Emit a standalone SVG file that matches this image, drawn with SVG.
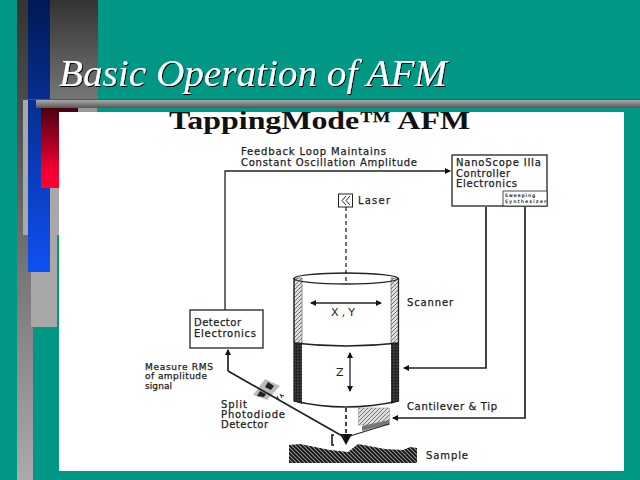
<svg xmlns="http://www.w3.org/2000/svg" width="640" height="480" viewBox="0 0 640 480">
<defs>
<linearGradient id="g1" x1="0" y1="0" x2="0" y2="1"><stop offset="0" stop-color="#333"/><stop offset="1" stop-color="#aaa"/></linearGradient>
<linearGradient id="g2" x1="0" y1="0" x2="0" y2="1"><stop offset="0" stop-color="#333"/><stop offset="1" stop-color="#777"/></linearGradient>
<linearGradient id="g3" x1="0" y1="0" x2="0" y2="1"><stop offset="0" stop-color="#001a55"/><stop offset="1" stop-color="#1050f5"/></linearGradient>
<linearGradient id="g4" x1="0" y1="0" x2="0" y2="1"><stop offset="0" stop-color="#4a0010"/><stop offset="0.75" stop-color="#f00030"/><stop offset="1" stop-color="#ff0033"/></linearGradient>
<linearGradient id="g5" x1="0" y1="0" x2="0" y2="1"><stop offset="0" stop-color="#aaa"/><stop offset="1" stop-color="#555"/></linearGradient>
<pattern id="light" width="4" height="4" patternUnits="userSpaceOnUse"><rect width="4" height="4" fill="#ddd"/><path d="M0 4L4 0" stroke="#777" stroke-width="1"/></pattern>
<pattern id="dark" width="3" height="3" patternUnits="userSpaceOnUse"><rect width="3" height="3" fill="#222"/><circle cx="1" cy="1" r=".6" fill="#999"/></pattern>
<pattern id="sample" width="4" height="4" patternUnits="userSpaceOnUse"><rect width="4" height="4" fill="#999"/><path d="M-1 -1L5 5M3 -1L5 1M-1 3L1 5" stroke="#111" stroke-width="1.8"/></pattern>
<marker id="ah" markerUnits="userSpaceOnUse" markerWidth="7" markerHeight="7" refX="5" refY="3" orient="auto-start-reverse"><path d="M0 0L6 3L0 6Z" fill="#111"/></marker>
<filter id="sh" x="-5%" y="-20%" width="110%" height="140%"><feOffset in="SourceAlpha" dx="1" dy="1" result="o"/><feMerge><feMergeNode in="o"/><feMergeNode in="SourceGraphic"/></feMerge></filter>
</defs>
<style>
.d{font-family:"DejaVu Sans",sans-serif;fill:#222;font-size:10px;stroke:#222;stroke-width:.25}
.s{font-size:9px}
.l{fill:none;stroke:#222;stroke-width:1.3}
.t{stroke-width:1.7}
.b{fill:#fff;stroke:#222;stroke-width:1.3}
</style>
<rect width="640" height="480" fill="#009784"/>
<g id="decor">
<rect x="17" y="0" width="16" height="480" fill="url(#g1)"/>
<rect x="23" y="100" width="36" height="135" fill="#a8a8a8"/>
<rect x="31" y="235" width="26" height="92" fill="#a8a8a8"/>
<rect x="50" y="0" width="48" height="100" fill="url(#g2)"/>
<rect x="28" y="0" width="22" height="272" fill="url(#g3)"/>
<rect x="36" y="100" width="604" height="8" fill="url(#g5)"/>
<rect x="78" y="108" width="19" height="4" fill="#999"/>
<rect x="41" y="108" width="37" height="4" fill="#4a0010"/>
<rect x="41" y="108" width="18" height="80" fill="url(#g4)"/>
<rect x="17" y="99" width="623" height="1" fill="#c02040"/>
</g>
<rect id="panel" x="59" y="112" width="565" height="359" fill="#fff"/>
<text id="title" x="59" y="86" font-family="'Liberation Serif',serif" font-style="italic" font-size="37" fill="#fff" filter="url(#sh)" textLength="388" lengthAdjust="spacingAndGlyphs">Basic Operation of AFM</text>
<text id="heading" x="169" y="129" font-family="'Liberation Serif',serif" font-weight="bold" font-size="26" fill="#111" textLength="301" lengthAdjust="spacingAndGlyphs">TappingMode™ AFM</text>
<g id="laser"><rect x="338.500" y="194" width="14" height="13" fill="#fff" stroke="#222"/><path d="M346 196l-4 4.500 4 4.500M350 196l-4 4.500 4 4.500" fill="none" stroke="#222"/><text class="d" x="358" y="204" textLength="32">Laser</text></g>
<g id="controller"><rect class="b" x="452" y="155" width="95" height="51"/><rect x="503" y="191" width="44" height="15" fill="#fff" stroke="#222" stroke-width=".8"/><text class="d" x="456" y="166" textLength="85">NanoScope IIIa</text><text class="d" x="456" y="177" textLength="54">Controller</text><text class="d" x="456" y="187" textLength="61">Electronics</text><text class="d" style="font-size:4.500px;stroke-width:.2" x="505" y="197" textLength="30">Sweeping</text><text class="d" style="font-size:4.500px;stroke-width:.2" x="505" y="203" textLength="41">Synthesizer</text></g>
<g id="feedback-label"><text class="d" x="241" y="155" textLength="145">Feedback Loop Maintains</text><text class="d" x="241" y="166" textLength="176">Constant Oscillation Amplitude</text></g>
<g id="detector-electronics"><rect class="b" x="190" y="310" width="73" height="38"/><text class="d" x="194" y="326" textLength="47">Detector</text><text class="d" x="194" y="337" textLength="62">Electronics</text></g>
<g id="scanner">
<path d="M294 278H302V343H294ZM391 278H398.500V343H391Z" fill="url(#light)" stroke="#555" stroke-width=".6"/>
<path d="M294 343H302V404L294 401ZM391 343H398.500V401L391 404Z" fill="url(#dark)"/>
<path class="l" d="M294 278V401Q346 413 398.500 401V278"/>
<ellipse class="l" cx="346" cy="278.500" rx="52" ry="5.500"/>
<path class="l" d="M294 343Q346 349 398.500 343"/>
<path class="l" d="M311 303H381" marker-start="url(#ah)" marker-end="url(#ah)"/>
<path class="l" d="M350 353V391" marker-start="url(#ah)" marker-end="url(#ah)"/>
<text class="d" style="stroke-width:0;font-size:11px" x="331" y="316" textLength="24">X,Y</text>
<text class="d" style="stroke-width:0;font-size:11px" x="336" y="376">Z</text>
<text class="d" x="407" y="306" textLength="46">Scanner</text>
</g>
<g id="cantilever"><rect x="358.500" y="408" width="31" height="17" fill="url(#light)" stroke="#999" stroke-width=".6"/><path d="M362 426L389 420V424L362 431Z" fill="#777"/><path d="M346 445L340 434H352Z" fill="#111"/><path d="M334 435H332V445H334" fill="none" stroke="#111" stroke-width="1.500"/><text class="d" x="407" y="410" textLength="90">Cantilever &amp; Tip</text></g>
<g id="sample"><path d="M289 445L300 444L330 450L348 452L358 444L385 449L403 450L410 447L417 448V463H289Z" fill="url(#sample)"/><text class="d" x="426" y="459" textLength="42">Sample</text></g>
<g id="photodiode"><path d="M265 379L280 386L267 400L253 395Z" fill="#bbb"/><path d="M268 382l6 4-3 4-6-3zM260 391l6 3-2 3-7-1z" fill="#222"/><path d="M277 396l2 4M280 394l2 4M281 395l3 1" stroke="#222" fill="none"/><text class="d" x="221" y="408" textLength="26">Split</text><text class="d" x="221" y="418" textLength="64">Photodiode</text><text class="d" x="221" y="428" textLength="47">Detector</text></g>
<g id="measure"><text class="d s" x="145" y="370" textLength="68">Measure RMS</text><text class="d s" x="145" y="379" textLength="62">of amplitude</text><text class="d s" x="145" y="389" textLength="27">signal</text></g>
<g id="connectors">
<path class="l" d="M225 310V171H450" marker-end="url(#ah)"/>
<path class="l t" d="M228 371V350" marker-end="url(#ah)"/>
<path class="l t" d="M228 371L344 437"/>
<path class="l t" d="M486 207V368H404" marker-end="url(#ah)"/>
<path class="l t" d="M525 207V418H393" marker-end="url(#ah)"/>
<path d="M346 207V283" class="l" stroke-dasharray="4 3" stroke-width="1"/>
<path d="M346 408V434" class="l t" stroke-dasharray="4 3"/>
<path d="M350 436L389 424" class="l" stroke-width="2.500"/>
</g>
</svg>
